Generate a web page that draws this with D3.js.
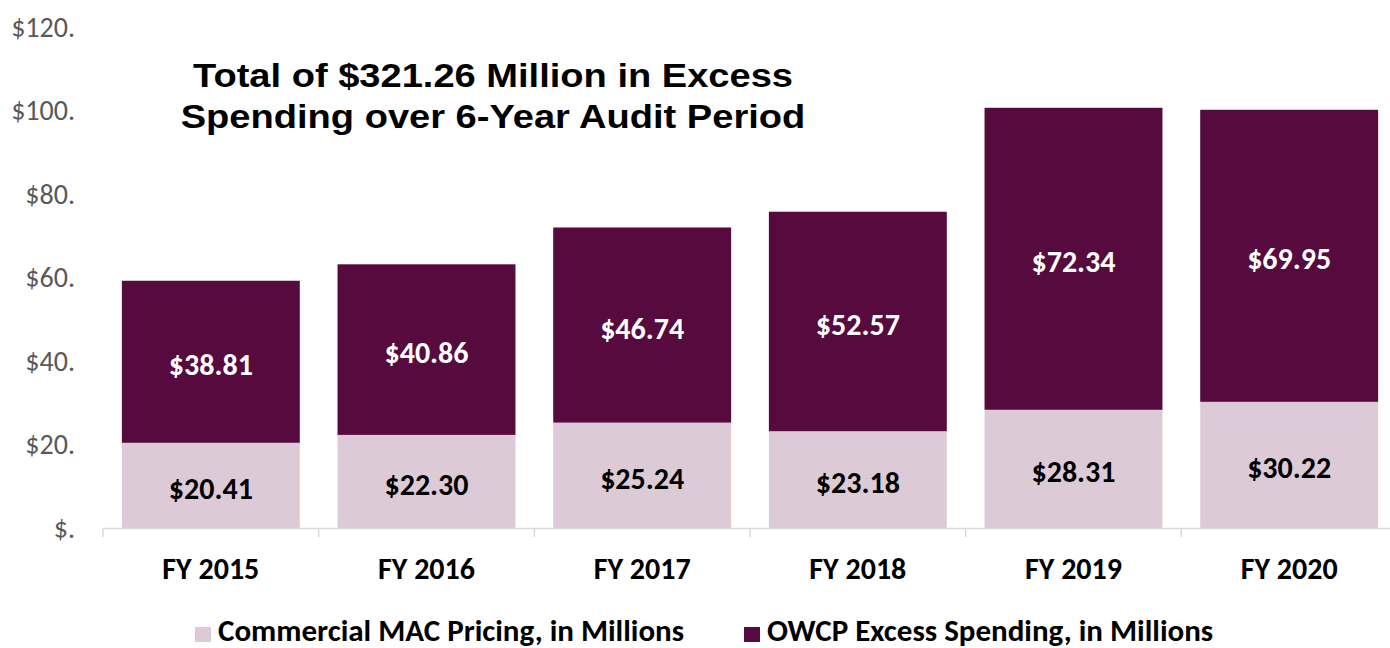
<!DOCTYPE html>
<html>
<head>
<meta charset="utf-8">
<script src="https://cdn.jsdelivr.net/npm/d3@7"></script>
<style>
  body { margin: 0; background: #fff; }
  svg { display: block; }
  text { font-family: Calibri, Carlito, Lato, sans-serif; }
</style>
</head>
<body>
<script>
var years = ['FY 2015', 'FY 2016', 'FY 2017', 'FY 2018', 'FY 2019', 'FY 2020'];
var macValues = [20.41, 22.30, 25.24, 23.18, 28.31, 30.22];
var owcpValues = [38.81, 40.86, 46.74, 52.57, 72.34, 69.95];
var yTicks = [0, 20, 40, 60, 80, 100, 120];
var seriesNames = ['Commercial MAC Pricing, in Millions', 'OWCP Excess Spending, in Millions'];
var titleLines = ['Total of $321.26 Million in Excess', 'Spending over 6-Year Audit Period'];

var colors = ['#dccbd7', '#570a3d'];

var svg = d3.select('body').append('svg').attr('width', 1390).attr('height', 648);

var x = d3.scaleBand()
        .domain(years)
        .range([103, 1397])
        .paddingInner(0.175)
        .paddingOuter(0.0875);

var y = d3.scaleLinear().domain([0, 120]).range([528, 27]);

var rows = years.map((d, i) => ({year: d, mac: macValues[i], owcp: owcpValues[i]}));
var stack = d3.stack().keys(['mac', 'owcp'])(rows);

// y labels, no axis line
svg.selectAll('text.ytick')
    .data(yTicks)
    .enter().append('text')
    .attr('class', 'ytick')
    .attr('x', 75)
    .attr('y', d => y(d))
    .attr('dy', '0.35em')
    .attr('text-anchor', 'end')
    .attr('fill', '#595959')
    .style('font-size', '28px')
    .text(d => d === 0 ? '$.' : '$' + d + '.');

// bars
var layers = svg.selectAll('g.layer')
    .data(stack)
    .enter().append('g')
    .attr('class', 'layer')
    .attr('fill', (d, i) => colors[i]);

layers.selectAll('rect')
    .data(d => d)
    .enter().append('rect')
    .attr('x', d => x(d.data.year))
    .attr('width', x.bandwidth())
    .attr('y', d => y(d[1]))
    .attr('height', d => y(d[0]) - y(d[1]));

// value labels
layers.selectAll('text.val')
    .data(d => d)
    .enter().append('text')
    .attr('class', 'val')
    .attr('x', d => x(d.data.year) + x.bandwidth() / 2)
    .attr('y', d => (y(d[0]) + y(d[1])) / 2 + 3)
    .attr('dy', '0.35em')
    .attr('text-anchor', 'middle')
    .attr('fill', function() { return d3.select(this.parentNode).datum().key === 'owcp' ? '#fff' : '#000'; })
    .style('font-size', '30px')
    .style('font-weight', 'bold')
    .text(d => '$' + (d[1] - d[0]).toFixed(2));

// x axis
var xAxis = d3.axisBottom(x).tickSize(0).tickPadding(30);
var gx = svg.append('g')
    .attr('transform', 'translate(0,' + y(0) + ')')
    .call(xAxis);
gx.select('.domain').attr('stroke', '#d9d9d9').attr('stroke-width', 1.5);
gx.selectAll('.tick text')
    .attr('fill', '#000')
    .style('font-size', '30px')
    .style('font-weight', 'bold')
    .style('font-family', 'Calibri, Carlito, Lato, sans-serif');

// category boundary ticks
svg.selectAll('line.bound')
    .data(d3.range(years.length + 1))
    .enter().append('line')
    .attr('class', 'bound')
    .attr('x1', i => x.range()[0] + i * x.step())
    .attr('x2', i => x.range()[0] + i * x.step())
    .attr('y1', y(0))
    .attr('y2', y(0) + 9)
    .attr('stroke', '#d9d9d9')
    .attr('stroke-width', 1.5);

// title, slightly widened like the source image
svg.selectAll('text.title')
    .data(titleLines)
    .enter().append('text')
    .attr('class', 'title')
    .attr('transform', (d, i) => 'translate(493,' + (87 + i * 41) + ') scale(1.12,1)')
    .attr('text-anchor', 'middle')
    .style('font-family', 'Arial, "Liberation Sans", sans-serif')
    .style('font-size', '34px')
    .style('font-weight', 'bold')
    .text(d => d);

// legend
var legendX = [195, 744];
var legend = svg.selectAll('g.legend')
    .data(seriesNames)
    .enter().append('g')
    .attr('class', 'legend')
    .attr('transform', (d, i) => 'translate(' + legendX[i] + ',627)');

legend.append('rect')
    .attr('width', 16)
    .attr('height', 15)
    .attr('fill', (d, i) => colors[i]);

legend.append('text')
    .attr('x', 23)
    .attr('y', 14)
    .style('font-size', '31px')
    .style('font-weight', 'bold')
    .text(d => d);
</script>
</body>
</html>
